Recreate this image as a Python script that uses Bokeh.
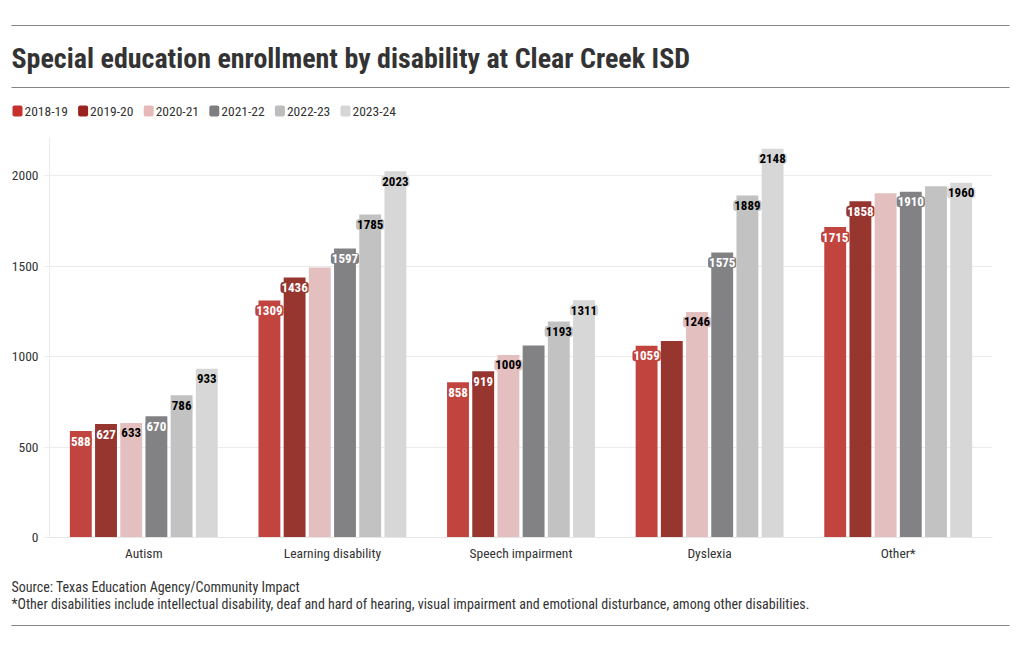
from bokeh.plotting import figure
from bokeh.models import Range1d, FactorRange, ColumnDataSource, FixedTicker
from bokeh.transform import dodge
from bokeh.layouts import column
from bokeh.embed import file_html
from bokeh.resources import INLINE
from bokeh.core.properties import value

# ---------------- data ----------------
categories = ["Autism", "Learning disability", "Speech impairment", "Dyslexia", "Other*"]
years = ["2018-19", "2019-20", "2020-21", "2021-22", "2022-23", "2023-24"]
v_2018_19 = [588, 1309, 858, 1059, 1715]
v_2019_20 = [627, 1436, 919, 1085, 1858]
v_2020_21 = [633, 1492, 1009, 1246, 1902]
v_2021_22 = [670, 1597, 1061, 1575, 1910]
v_2022_23 = [786, 1785, 1193, 1889, 1941]
v_2023_24 = [933, 2023, 1311, 2148, 1960]
y_ticks = [0, 500, 1000, 1500, 2000]
hidden_labels = [("Learning disability", "2020-21"), ("Speech impairment", "2021-22"),
                 ("Dyslexia", "2019-20"), ("Other*", "2020-21"), ("Other*", "2022-23")]

title_text = "Special education enrollment by disability at Clear Creek ISD"
source_text = "Source: Texas Education Agency/Community Impact"
note_text = ("*Other disabilities include intellectual disability, deaf and hard of hearing, "
             "visual impairment and emotional disturbance, among other disabilities.")

series = [v_2018_19, v_2019_20, v_2020_21, v_2021_22, v_2022_23, v_2023_24]

# ---------------- style ----------------
FONT = "Roboto Condensed"
bar_colors = ["#c1443e", "#97352f", "#e3bfbf", "#828285", "#c2c2c2", "#d7d7d7"]
swatch_colors = ["#c8302c", "#9a2220", "#e6b9b9", "#7e7e80", "#bdbdbd", "#d6d6d6"]
label_colors = ["white", "white", "black", "white", "black", "black"]
TEXT = "#333333"
RULE = "#858585"
W = 1020


def blank(h):
    f = figure(width=W, height=h, x_range=Range1d(0, W), y_range=Range1d(h, 0),
               toolbar_location=None, output_backend="svg", min_border=0,
               x_axis_location=None, y_axis_location=None, frame_align=False)
    f.grid.visible = False
    f.outline_line_color = None
    return f


# ---------------- header ----------------
HH = 130
hdr = blank(HH)
hdr.segment(x0=[11, 11], y0=[25, 87], x1=[1009, 1009], y1=[25, 87], line_color=RULE, line_width=1)
hdr.text(x=[11], y=[57.5], text=[title_text], text_font=value(FONT), text_font_style="bold",
         text_font_size="28px", text_baseline="middle", text_color=TEXT)
pitch = 65.6
for i, yr in enumerate(years):
    x0 = 12 + i * pitch
    hdr.quad(left=[x0], right=[x0 + 10], top=[105], bottom=[116], border_radius=2,
             fill_color=swatch_colors[i], line_color=None)
    hdr.text(x=[x0 + 12], y=[110.5], text=[yr], text_font=value(FONT), text_font_size="13.5px",
             text_baseline="middle", text_color=TEXT)

# ---------------- chart ----------------
p = figure(width=W, height=440, x_range=FactorRange(*categories), y_range=Range1d(0, 2210),
           toolbar_location=None, output_backend="svg", frame_align=False,
           min_border_left=49, min_border_right=28, min_border_top=7, min_border_bottom=33)
p.outline_line_color = None
p.xgrid.visible = False
p.ygrid.grid_line_color = "#ebebeb"
p.yaxis.ticker = FixedTicker(ticks=y_ticks)
p.yaxis.minor_tick_line_color = None
p.yaxis.major_tick_in = 0
p.yaxis.major_tick_out = 5
p.yaxis.major_tick_line_color = "#ebebeb"
p.yaxis.axis_line_color = "#ebebeb"
p.yaxis.major_label_standoff = 6
p.xaxis.axis_line_color = "#e6e6e6"
p.xaxis.major_tick_line_color = None
p.xaxis.minor_tick_line_color = None
p.xaxis.major_tick_in = 0
p.xaxis.major_tick_out = 0
p.xaxis.minor_tick_in = 0
p.xaxis.minor_tick_out = 0
p.xaxis.major_label_standoff = 7
for ax in (p.xaxis, p.yaxis):
    ax.major_label_text_font = FONT
    ax.major_label_text_font_size = "13.5px"
    ax.major_label_text_color = TEXT

step = 0.1336
bw = 0.116
for i, (yr, vals) in enumerate(zip(years, series)):
    off = (i - 2.5) * step
    src = ColumnDataSource(dict(cat=categories, v=vals))
    p.vbar(x=dodge("cat", off, range=p.x_range), top="v", width=bw, source=src,
           fill_color=bar_colors[i], line_color=None)
    shown_c = [c for c, v in zip(categories, vals) if (c, yr) not in hidden_labels]
    shown_v = [v for c, v in zip(categories, vals) if (c, yr) not in hidden_labels]
    lsrc = ColumnDataSource(dict(cat=shown_c, v=shown_v, t=[str(v) for v in shown_v]))
    p.text(x=dodge("cat", off, range=p.x_range), y="v", text="t", source=lsrc,
           y_offset=10, text_align="center", text_baseline="middle",
           text_font=value(FONT), text_font_style="bold", text_font_size="13px",
           text_color=label_colors[i], background_fill_color=bar_colors[i],
           padding=1, border_radius=3)

# ---------------- footer ----------------
FH = 80
ftr = blank(FH)
ftr.text(x=[11, 11], y=[16, 33], text=[source_text, note_text], text_font=value(FONT),
         text_font_size="14px", text_baseline="middle", text_color=TEXT)
ftr.segment(x0=[11], y0=[55], x1=[1009], y1=[55], line_color=RULE, line_width=1)

layout = column(hdr, p, ftr, spacing=0)
open("out.html", "w").write(file_html(layout, INLINE))
